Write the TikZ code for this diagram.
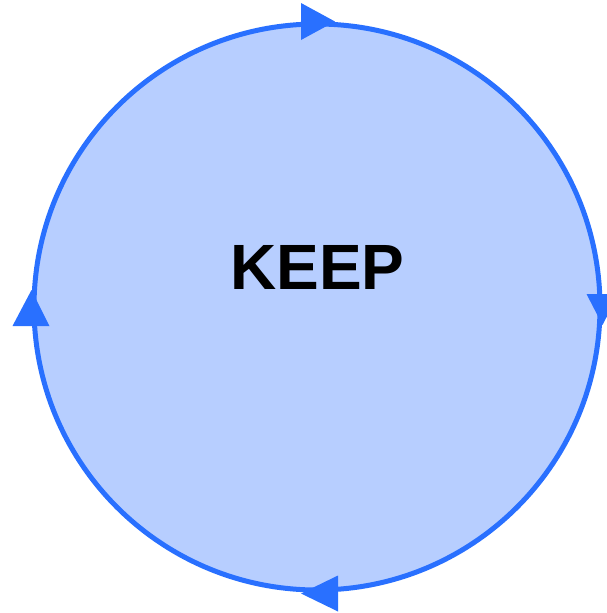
\documentclass[tikz,border=0pt]{standalone}
\usepackage{fontspec}
\setmainfont{Liberation Sans}
\definecolor{ringblue}{RGB}{41,112,255}
\definecolor{fillblue}{RGB}{183,206,255}
\tikzset{
  ring/.style={circle, draw=ringblue, fill=fillblue, line width=5pt, minimum size=566pt, inner sep=0pt},
  head/.style={fill=ringblue},
  label/.style={font=\fontsize{64}{70}\selectfont\bfseries, text=black, inner sep=0pt}
}
\begin{document}
\begin{tikzpicture}[x=1pt,y=1pt]
\useasboundingbox (0,0) rectangle (607,-613);
\node[ring] (c) at (317,-307) {};
\node[label] (t) at (317.5,-267.5) {KEEP};
% top, pointing right
\fill[head] ([xshift=18pt]c.north) -- ([xshift=-16pt,yshift=18.5pt]c.north) -- ([xshift=-16pt,yshift=-18.5pt]c.north) -- cycle;
% right, pointing down
\fill[head] ([yshift=-18pt]c.east) -- ([xshift=-16pt,yshift=13pt]c.east) -- ([xshift=16pt,yshift=13pt]c.east) -- cycle;
% bottom, pointing left
\fill[head] ([xshift=-16pt,yshift=-1pt]c.south) -- ([xshift=21pt,yshift=17pt]c.south) -- ([xshift=21pt,yshift=-19pt]c.south) -- cycle;
% left, pointing up
\fill[head] ([yshift=17pt]c.west) -- ([xshift=-19pt,yshift=-19pt]c.west) -- ([xshift=18pt,yshift=-19pt]c.west) -- cycle;
\end{tikzpicture}
\end{document}
